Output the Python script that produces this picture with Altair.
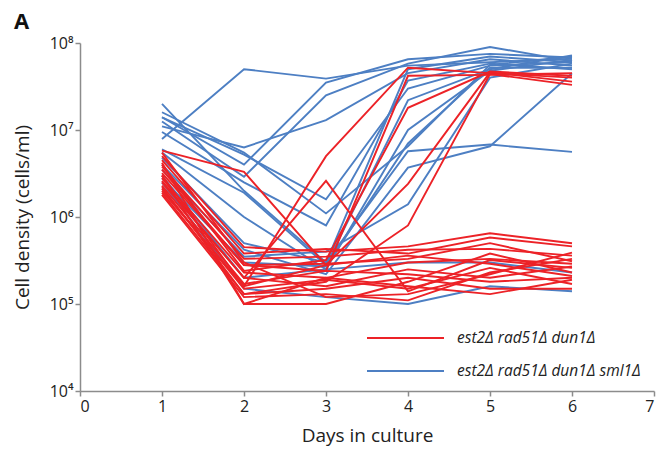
import altair as alt
import pandas as pd

days = [1, 2, 3, 4, 5, 6]

RED_LABEL = "est2Δ rad51Δ dun1Δ"
BLUE_LABEL = "est2Δ rad51Δ dun1Δ sml1Δ"

blue_lines = [
    [7.9e6, 5.0e7, 3.9e7, 5.5e7, 6.0e7, 6.6e7],
    [2.0e7, 2.0e6, 3.0e5, 5.0e7, 7.0e7, 6.0e7],
    [1.6e7, 5.5e6, 1.1e6, 6.5e6, 5.6e7, 7.0e7],
    [1.4e7, 4.0e6, 3.5e7, 6.5e7, 7.5e7, 6.8e7],
    [1.25e7, 2.9e6, 2.5e7, 5.8e7, 9.0e7, 6.2e7],
    [1.1e7, 6.3e6, 1.3e7, 4.5e7, 6.5e7, 5.5e7],
    [9.5e6, 2.5e6, 8.0e5, 3.7e7, 5.8e7, 5.0e7],
    [6.0e6, 1.9e6, 2.8e5, 2.2e7, 5.0e7, 7.2e7],
    [5.5e6, 1.0e6, 2.5e5, 1.0e7, 4.8e7, 6.4e7],
    [4.8e6, 5.0e5, 3.0e5, 5.7e6, 6.8e6, 5.6e6],
    [4.0e6, 4.2e5, 2.2e5, 3.7e6, 6.5e6, 4.5e7],
    [3.5e6, 3.5e5, 4.0e5, 1.4e6, 4.0e7, 5.8e7],
    [3.0e6, 2.0e5, 2.5e5, 3.0e5, 3.0e5, 2.3e5],
    [2.5e6, 1.5e5, 1.2e5, 1.0e5, 1.6e5, 1.4e5],
    [2.8e6, 3.0e5, 2.7e5, 7.0e6, 5.2e7, 5.2e7],
    [1.4e7, 5.2e6, 1.6e6, 3.0e7, 5.5e7, 6.0e7],
]

red_lines = [
    [3.0e6, 1.6e5, 5.0e6, 5.2e7, 4.5e7, 4.0e7],
    [2.6e6, 2.0e5, 2.6e6, 1.4e5, 3.2e5, 2.6e5],
    [5.8e6, 3.3e6, 2.8e5, 2.4e6, 4.6e7, 3.6e7],
    [2.2e6, 1.3e5, 1.8e5, 8.0e5, 4.4e7, 3.3e7],
    [4.0e6, 2.4e5, 3.2e5, 1.8e7, 4.7e7, 4.2e7],
    [3.5e6, 2.8e5, 2.4e5, 4.2e7, 4.3e7, 4.5e7],
    [5.0e6, 4.5e5, 4.0e5, 4.6e5, 6.5e5, 5.0e5],
    [4.5e6, 3.8e5, 4.3e5, 3.8e5, 5.8e5, 4.6e5],
    [3.8e6, 3.3e5, 3.5e5, 4.2e5, 4.3e5, 3.6e5],
    [3.2e6, 2.8e5, 2.9e5, 3.3e5, 5.0e5, 3.1e5],
    [2.8e6, 2.3e5, 2.0e5, 3.0e5, 3.3e5, 2.9e5],
    [2.5e6, 2.0e5, 1.6e5, 2.5e5, 2.0e5, 2.7e5],
    [2.3e6, 1.7e5, 2.4e5, 2.2e5, 1.8e5, 2.0e5],
    [2.1e6, 1.5e5, 1.9e5, 1.5e5, 2.6e5, 1.7e5],
    [1.9e6, 1.3e5, 1.5e5, 2.0e5, 1.5e5, 1.5e5],
    [1.8e6, 1.2e5, 1.3e5, 1.1e5, 2.3e5, 3.3e5],
    [4.2e6, 1.0e5, 1.0e5, 1.8e5, 3.8e5, 2.3e5],
    [3.0e6, 1.0e5, 2.0e5, 1.6e5, 1.3e5, 1.9e5],
    [5.5e6, 3.0e5, 1.2e5, 1.3e5, 2.2e5, 3.9e5],
    [2.0e6, 1.6e5, 2.8e5, 3.6e5, 2.9e5, 2.1e5],
]

x_ticks = [0, 1, 2, 3, 4, 5, 6, 7]
y_ticks = [1e4, 1e5, 1e6, 1e7, 1e8]
y_tick_labels = ["10⁴", "10⁵", "10⁶", "10⁷", "10⁸"]

rows = []
for i, s in enumerate(blue_lines):
    for d, v in zip(days, s):
        rows.append({"day": d, "density": v, "strain": BLUE_LABEL, "id": f"b{i:02d}"})
for i, s in enumerate(red_lines):
    for d, v in zip(days, s):
        rows.append({"day": d, "density": v, "strain": RED_LABEL, "id": f"r{i:02d}"})
df = pd.DataFrame(rows)

RED = "#ec2227"
BLUE = "#4d7fc3"
FONT = "Open Sans"

label_expr = "[" + ",".join(f"'{t}'" for t in y_tick_labels) + "][round(log(datum.value)/LN10) - 4]"

chart = alt.Chart(df).mark_line(strokeWidth=1.9).encode(
    x=alt.X(
        "day:Q",
        scale=alt.Scale(domain=[0, 7], nice=False),
        axis=alt.Axis(values=x_ticks, title="Days in culture", format="d",
                      titlePadding=12),
    ),
    y=alt.Y(
        "density:Q",
        scale=alt.Scale(type="log", domain=[1e4, 1e8], nice=False),
        axis=alt.Axis(values=y_ticks, labelExpr=label_expr,
                      title="Cell density (cells/ml)", titlePadding=17),
    ),
    color=alt.Color(
        "strain:N",
        scale=alt.Scale(domain=[RED_LABEL, BLUE_LABEL], range=[RED, BLUE]),
        legend=alt.Legend(
            title=None, orient="none", legendX=286, legendY=287,
            symbolType="stroke", symbolSize=5929, symbolStrokeWidth=1.9,
            clipHeight=16,
            labelFont=FONT, labelFontStyle="italic", labelFontSize=15.5,
            labelColor="#222222", labelOffset=12, rowPadding=16,
            labelLimit=400,
        ),
    ),
    detail="id:N",
).properties(
    width=574,
    height=348,
    padding={"left": 72, "top": 35, "right": 2, "bottom": 60},
    autosize=alt.AutoSizeParams(type="none"),
    title=alt.TitleParams(text="A", anchor="start", frame="group", dx=-66,
                          fontSize=22, fontWeight="bold", font=FONT,
                          color="#111111", offset=1),
).configure_view(stroke=None).configure_axis(
    grid=False,
    domainColor="#8c8c8c",
    domainWidth=1.5,
    tickColor="#8c8c8c",
    tickWidth=1.5,
    tickSize=5,
    labelFont=FONT,
    labelFontSize=16,
    labelColor="#222222",
    titleFont=FONT,
    titleFontSize=19,
    titleFontWeight="normal",
    titleColor="#222222",
)

chart.save("out.html", embed_options={"renderer": "svg", "actions": False})
